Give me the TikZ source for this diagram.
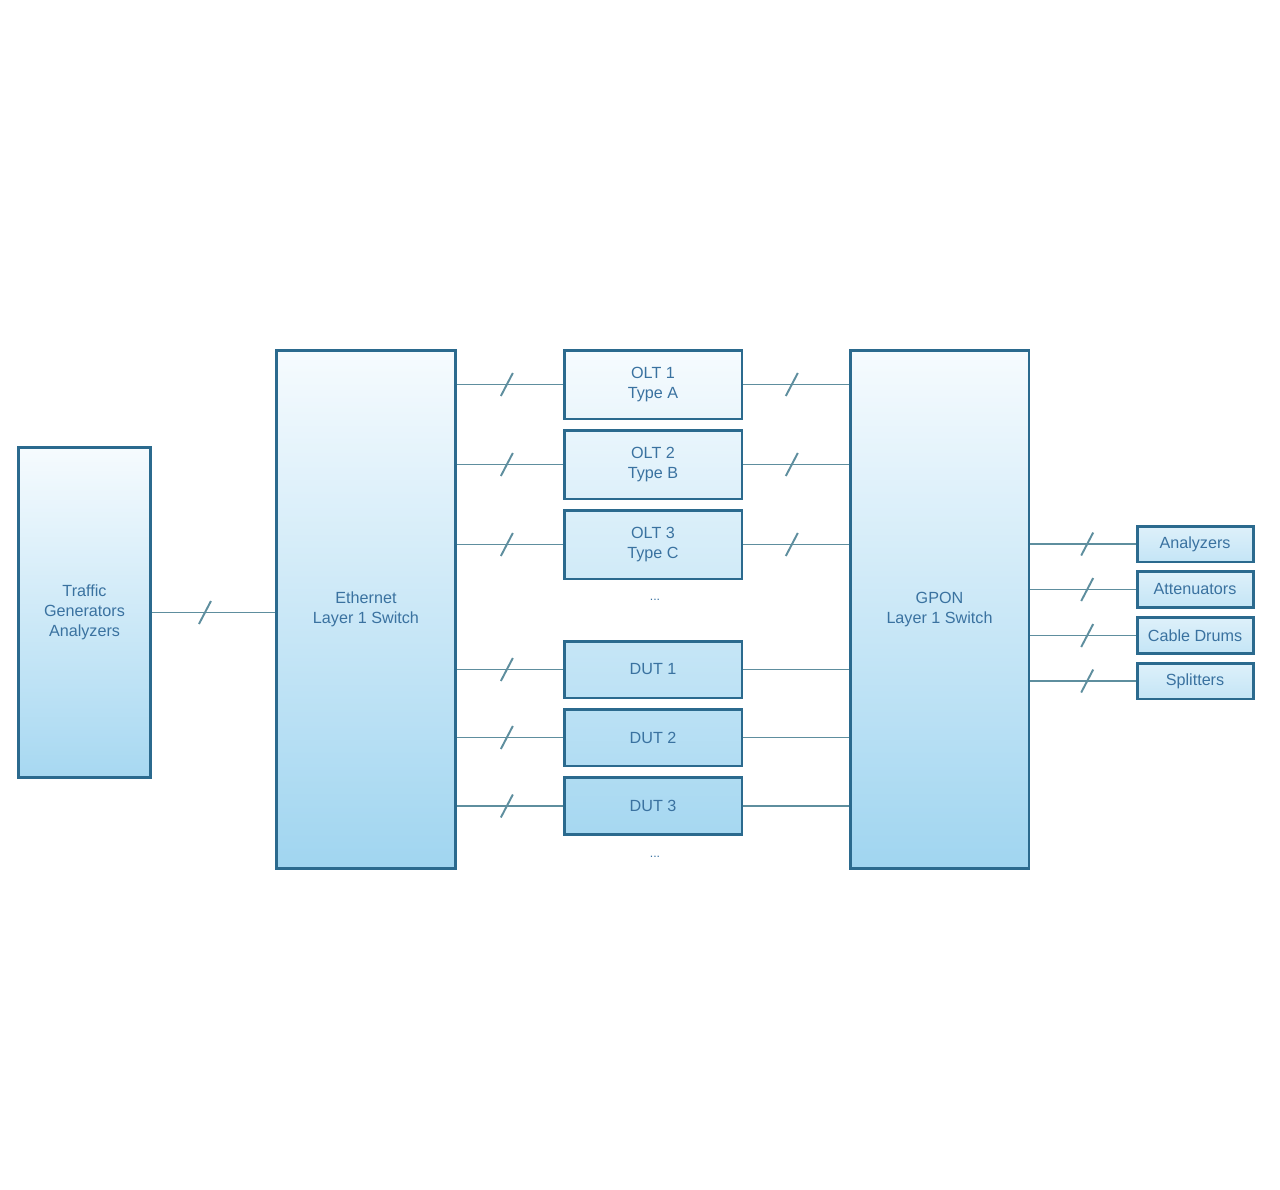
\documentclass[tikz,border=0pt]{standalone}
\usepackage{fontspec}
\setmainfont{Liberation Sans}
\usetikzlibrary{decorations.markings}
\definecolor{topc}{HTML}{F6FBFE}
\definecolor{botc}{HTML}{A0D5F0}
\definecolor{bordc}{HTML}{2B6A8E}
\definecolor{linec}{HTML}{5E8E9E}
\definecolor{txtc}{HTML}{3A72A0}
\begin{document}
\begin{tikzpicture}[x=0.02cm,y=-0.02cm,
 box/.style={draw=bordc, line width=1.7pt, inner sep=0pt, align=center, text=txtc, font=\fontsize{9.2}{11.4}\selectfont},
 grad/.style 2 args={top color=botc!#1!topc, bottom color=botc!#2!topc},
 olt/.style={box, minimum width=3.56cm, minimum height=1.38cm},
 dut/.style={box, minimum width=3.56cm, minimum height=1.14cm},
 rbox/.style={box, grad={28}{58}, minimum width=2.32cm, minimum height=0.72cm},
 conn/.style={draw=linec, line width=1.1pt},
 slash/.style={postaction={decorate}, decoration={markings, mark=at position #1 with {\draw[linec, line width=1.1pt] (-0.12cm,-0.23cm) -- (0.12cm,0.23cm);}}},
 dotsty/.style={text=txtc, font=\fontsize{7}{8}\selectfont}]
\useasboundingbox (0,0) rectangle (1280,1189);

% main boxes
\node[box, grad={0}{92}, minimum width=2.66cm, minimum height=6.62cm] (tga) at (84.5,612.5) {Traffic\\Generators\\Analyzers};
\node[box, grad={0}{100}, minimum width=3.6cm, minimum height=10.38cm] (eth) at (366,609.5) {Ethernet\\Layer 1 Switch};
\node[box, grad={0}{100}, minimum width=3.58cm, minimum height=10.38cm] (gpon) at (939.5,609.5) {GPON\\Layer 1 Switch};

% OLTs and DUTs
\node[olt, grad={0}{13}] (olt1) at (653,384.5) {OLT 1\\Type A};
\node[olt, grad={15}{29}] (olt2) at (653,464.5) {OLT 2\\Type B};
\node[olt, grad={31}{44}] (olt3) at (653,544.5) {OLT 3\\Type C};
\node[dut, grad={56}{67}] (dut1) at (653,669.5) {DUT 1};
\node[dut, grad={69}{80}] (dut2) at (653,737.5) {DUT 2};
\node[dut, grad={82}{93}] (dut3) at (653,806) {DUT 3};
\node[dotsty] (dotsa) at (655,600) {...};
\node[dotsty] (dotsb) at (655,857) {...};

% right boxes
\node[rbox] (ana) at (1195,544) {Analyzers};
\node[rbox] (att) at (1195,589.5) {Attenuators};
\node[rbox] (cab) at (1195,635.5) {Cable Drums};
\node[rbox] (spl) at (1195,681) {Splitters};

% connectors
\draw[conn, slash=.43] (tga.east) -- (tga.east -| eth.west);
\foreach \n in {olt1,olt2,olt3}{
  \draw[conn, slash=.47] (\n.west -| eth.east) -- (\n.west);
  \draw[conn, slash=.46] (\n.east) -- (\n.east -| gpon.west);
}
\foreach \n in {dut1,dut2,dut3}{
  \draw[conn, slash=.47] (\n.west -| eth.east) -- (\n.west);
  \draw[conn] (\n.east) -- (\n.east -| gpon.west);
}
\foreach \n in {ana,att,cab,spl}{
  \draw[conn, slash=.54] (\n.west -| gpon.east) -- (\n.west);
}
\end{tikzpicture}
\end{document}
